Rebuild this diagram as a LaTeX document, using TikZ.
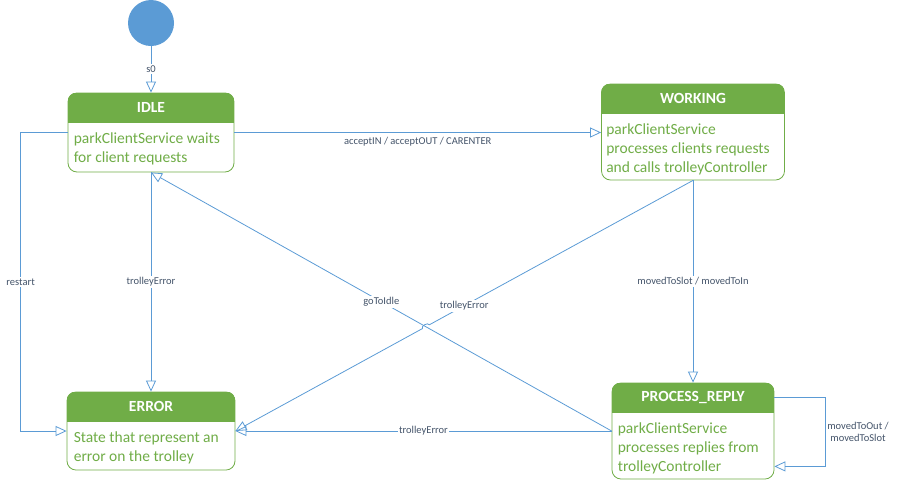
\documentclass[tikz,border=0pt]{standalone}
\usepackage{fontspec}
\setmainfont{Carlito}
\usepackage{tikz}
\usetikzlibrary{arrows.meta}
\usetikzlibrary{calc}
\definecolor{umlblue}{HTML}{5B9BD5}
\definecolor{umlgreen}{HTML}{70AD47}
\definecolor{umltext}{HTML}{44546A}
\tikzstyle{state} = [draw=umlgreen,fill=white,rectangle,rounded corners=9pt,line width=0.8pt]
\tikzstyle{header} = [fill=umlgreen]
\tikzstyle{title} = [text=white,font=\fontsize{15.5}{19}\selectfont\bfseries]
\tikzstyle{body} = [text=umlgreen,font=\fontsize{15.5}{19}\selectfont,align=left,anchor=north west,inner sep=0pt]
\tikzstyle{connector} = [-{Triangle[open,length=11pt,width=10pt]},umlblue,line width=0.8pt]
\tikzstyle{lbl} = [text=umltext,font=\fontsize{10.5}{12.5}\selectfont,fill=white,inner sep=1.5pt]

\begin{document}
\begin{tikzpicture}[x=1pt,y=-1pt]
	\useasboundingbox (0,0) rectangle (901,483);

	\node[circle,fill=umlblue,minimum size=46pt,inner sep=0pt] (init) at (151,23) {};

	\node[state,minimum width=166pt,minimum height=79pt] (idle) at (151,132.5) {};
	\node[state,minimum width=183pt,minimum height=96pt] (working) at (693,132) {};
	\node[state,minimum width=162pt,minimum height=96pt] (reply) at (693,431) {};
	\node[state,minimum width=168pt,minimum height=78pt] (error) at (151,431) {};

	% green title bars
	\foreach \s/\t in {idle/IDLE,working/WORKING,reply/PROCESS\_REPLY,error/ERROR} {
		\begin{scope}
			\clip[rounded corners=9pt] (\s.north west) rectangle (\s.south east);
			\fill[header] (\s.north west) rectangle ([yshift=-30pt]\s.north east);
		\end{scope}
		\node[title] (\s-title) at ($(\s.north)+(0,15)$) {\t};
	}

	\node[body] (idle-text) at ($(idle.north west)+(6,40)$) {parkClientService waits\\for client requests};
	\node[body] (working-text) at ($(working.north west)+(5,40)$) {parkClientService\\processes clients requests\\and calls trolleyController};
	\node[body] (reply-text) at ($(reply.north west)+(6,40)$) {parkClientService\\processes replies from\\trolleyController};
	\node[body] (error-text) at ($(error.north west)+(7,40)$) {State that represent an\\error on the trolley};

	% now link the states
	\draw[connector] (init) -- node[lbl] {s0} (idle);
	\draw[connector] (idle.east) -- node[lbl,below=3pt] {acceptIN / acceptOUT / CARENTER} (idle.east -| working.west);
	\draw[connector] (idle.west) -- ++(-47,0) |- node[lbl,pos=0.25] {restart} (error.west);
	\draw[connector] (idle) -- node[lbl] {trolleyError} (error);
	\draw[connector] (reply.west) -- node[lbl] {goToIdle} (idle.south);

	% line hop where the two diagonals cross
	\coordinate (hop) at (intersection of working.south--error.east and reply.west--idle.south);
	\draw[connector] (working.south) -- ($(hop)!4pt!(working.south)$) to[bend right=90] ($(hop)!4pt!(error.east)$) -- (error.east);
	\path (working.south) -- node[lbl] {trolleyError} (error.east);

	\draw[connector] (working) -- node[lbl] {movedToSlot / movedToIn} (reply);
	\draw[connector] (reply.west) -- node[lbl] {trolleyError} (error.east);
	\draw[connector] ([yshift=-15pt]reply.north east) -- ++(51,0) |- node[lbl,right,pos=0.25,align=center] {movedToOut /\\movedToSlot} ([yshift=13pt]reply.south east);

\end{tikzpicture}
\end{document}
